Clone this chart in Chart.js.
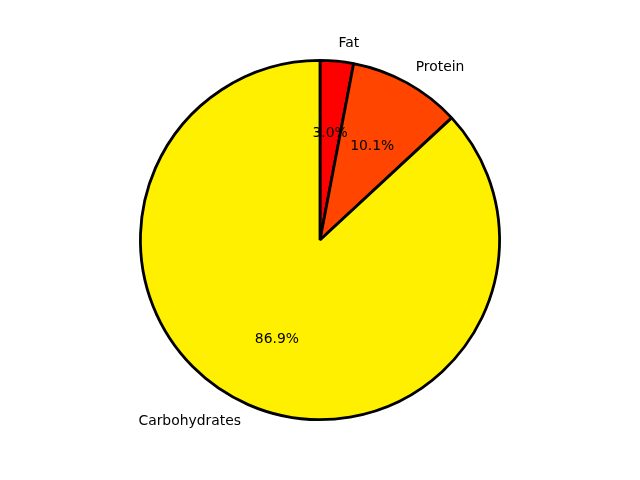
<!DOCTYPE html>
<html>
<head>
<meta charset="utf-8">
<script src="https://cdn.jsdelivr.net/npm/chart.js@4/dist/chart.umd.min.js"></script>
<style>
  html, body { margin: 0; padding: 0; background: #fff; }
  #wrap { width: 640px; height: 480px; }
</style>
</head>
<body>
<div id="wrap"><canvas id="chart" width="640" height="480"></canvas></div>
<script>
const labels = ["Fat", "Protein", "Carbohydrates"]
const values = [3.0, 10.1, 86.9]
const colors = ["#ff0000", "#ff4500", "#fff000"]

const FONT_SIZE = 13.9
const FONT = FONT_SIZE + "px 'DejaVu Sans'"

// draw matplotlib-style labels (1.1 r) and percentages (0.6 r)
const pieLabels = {
  id: "pieLabels",
  afterDatasetsDraw(chart) {
    const ctx = chart.ctx
    const arcs = chart.getDatasetMeta(0).data
    const total = values.reduce((a, b) => a + b, 0)
    // baseline offset so that text looks vertically centred like matplotlib
    const dy = FONT_SIZE * 0.275
    ctx.save()
    ctx.font = FONT
    ctx.fillStyle = "#000"
    ctx.textBaseline = "alphabetic"
    arcs.forEach((arc, i) => {
      const mid = (arc.startAngle + arc.endAngle) / 2
      const r = arc.outerRadius
      const cx = Math.cos(mid), cy = Math.sin(mid)
      ctx.textAlign = cx > 0 ? "left" : "right"
      ctx.fillText(labels[i], arc.x + cx * r * 1.1, arc.y + cy * r * 1.1 + dy)
      ctx.textAlign = "center"
      const pct = (values[i] / total * 100).toFixed(1) + "%"
      ctx.fillText(pct, arc.x + cx * r * 0.6, arc.y + cy * r * 0.6 + dy)
    })
    ctx.restore()
  }
}

const chart = new Chart("chart", {
  type: "pie",
  data: {
    labels: labels,
    datasets: [{
      data: values,
      backgroundColor: colors,
      borderColor: "#000",
      borderWidth: 2.8,
      hoverOffset: 0,
    }]
  },
  options: {
    responsive: false,
    animation: false,
    layout: {padding: {top: 59, bottom: 59, left: 139, right: 139}},
    plugins: {
      legend: {display: false},
      tooltip: {enabled: false},
    },
  },
  plugins: [pieLabels]
})
</script>
</body>
</html>
